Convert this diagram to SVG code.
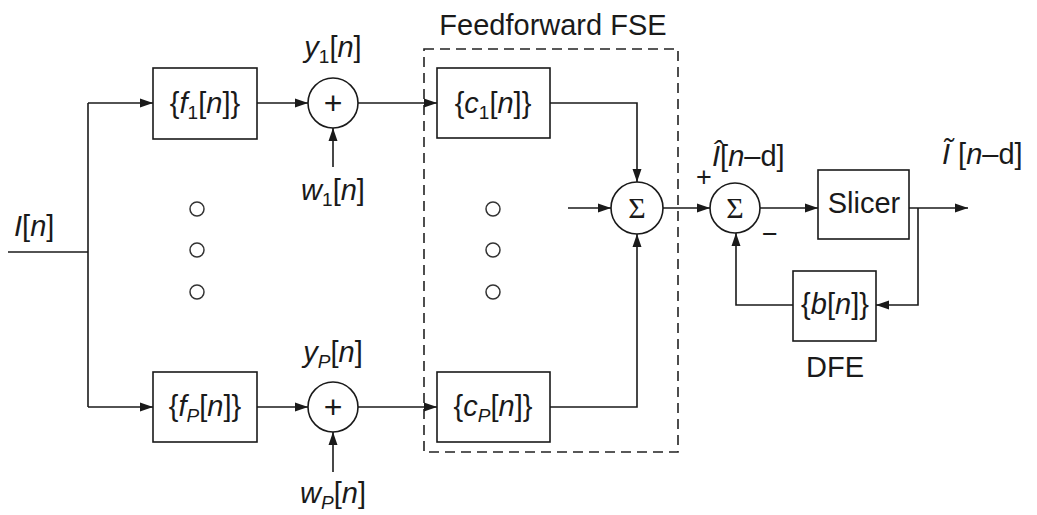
<svg xmlns="http://www.w3.org/2000/svg" width="1037" height="515" viewBox="0 0 1037 515">
<defs>
<marker id="arr" markerUnits="userSpaceOnUse" markerWidth="14" markerHeight="10" refX="13" refY="5" orient="auto">
<path d="M0,0.5 L13,5 L0,9.5 z" fill="#1a1a1a"/>
</marker>
<style>
text{font-family:"Liberation Sans",Arial,sans-serif;font-size:29px;fill:#1a1a1a}
.c{text-anchor:middle}
.i{font-style:italic}
.s{font-size:19px}
.blk{fill:#fff;stroke:#1a1a1a;stroke-width:1.6}
.dot{fill:none;stroke:#333;stroke-width:1.5}
.ln{fill:none;stroke:#1a1a1a;stroke-width:1.6}
.ar{fill:none;stroke:#1a1a1a;stroke-width:1.6;marker-end:url(#arr)}
.sig{font-family:"Liberation Serif",serif;font-size:30px}
.pl{font-size:27px}
.ad{font-size:32px}
</style>
</defs>
<rect width="1037" height="515" fill="#fff"/>

<g id="fse-frame">
<rect x="424" y="49" width="254" height="403" fill="none" stroke="#222" stroke-width="1.6" stroke-dasharray="10,6"/>
<text class="c" x="553" y="35">Feedforward FSE</text>
</g>

<g id="connectors">
<path class="ln" d="M8,252 H88"/>
<path class="ln" d="M88,103 V407"/>
<path class="ar" d="M88,103 H153"/>
<path class="ar" d="M88,407 H153"/>
<path class="ar" d="M257,103 H308"/>
<path class="ar" d="M358,103 H437"/>
<path class="ar" d="M333,167 V128"/>
<path class="ar" d="M257,407 H308"/>
<path class="ar" d="M358,407 H437"/>
<path class="ar" d="M333,472 V432"/>
<path class="ar" d="M550,103 H637 V182"/>
<path class="ar" d="M550,407 H637 V234"/>
<path class="ar" d="M568,208 H611"/>
<path class="ar" d="M663,208 H710"/>
<path class="ar" d="M760,208 H818"/>
<path class="ar" d="M909,208 H968"/>
<path class="ar" d="M918,208 V305 H876"/>
<path class="ar" d="M793,305 H736 V233"/>
</g>

<g id="input-label">
<text x="14" y="236"><tspan class="i">I</tspan>[<tspan class="i">n</tspan>]</text>
</g>

<g id="f1">
<rect class="blk" x="153" y="68" width="104" height="71"/>
<text class="c" x="205" y="113">{<tspan class="i">f</tspan><tspan class="s" dy="6">1</tspan><tspan dy="-6">[</tspan><tspan class="i">n</tspan>]}</text>
</g>
<g id="fP">
<rect class="blk" x="153" y="372" width="104" height="70"/>
<text class="c" x="205" y="416">{<tspan class="i">f</tspan><tspan class="s i" dy="6">P</tspan><tspan dy="-6">[</tspan><tspan class="i">n</tspan>]}</text>
</g>

<g id="add1">
<circle class="blk" cx="333" cy="103" r="25"/>
<text class="c ad" x="333" y="114">+</text>
<text class="c" x="333" y="57"><tspan class="i">y</tspan><tspan class="s" dy="6">1</tspan><tspan dy="-6">[</tspan><tspan class="i">n</tspan>]</text>
<text class="c" x="333" y="200"><tspan class="i">w</tspan><tspan class="s" dy="6">1</tspan><tspan dy="-6">[</tspan><tspan class="i">n</tspan>]</text>
</g>
<g id="addP">
<circle class="blk" cx="333" cy="407" r="25"/>
<text class="c ad" x="333" y="418">+</text>
<text class="c" x="333" y="362"><tspan class="i">y</tspan><tspan class="s i" dy="6">P</tspan><tspan dy="-6">[</tspan><tspan class="i">n</tspan>]</text>
<text class="c" x="333" y="503"><tspan class="i">w</tspan><tspan class="s i" dy="6">P</tspan><tspan dy="-6">[</tspan><tspan class="i">n</tspan>]</text>
</g>

<g id="dots-left">
<circle class="dot" cx="197" cy="209" r="7"/>
<circle class="dot" cx="197" cy="250" r="7"/>
<circle class="dot" cx="197" cy="292" r="7"/>
</g>
<g id="dots-mid">
<circle class="dot" cx="493" cy="209" r="7"/>
<circle class="dot" cx="493" cy="250" r="7"/>
<circle class="dot" cx="493" cy="292" r="7"/>
</g>

<g id="c1">
<rect class="blk" x="437" y="68" width="113" height="70"/>
<text class="c" x="493" y="113">{<tspan class="i">c</tspan><tspan class="s" dy="6">1</tspan><tspan dy="-6">[</tspan><tspan class="i">n</tspan>]}</text>
</g>
<g id="cP">
<rect class="blk" x="437" y="372" width="113" height="70"/>
<text class="c" x="493" y="416">{<tspan class="i">c</tspan><tspan class="s i" dy="6">P</tspan><tspan dy="-6">[</tspan><tspan class="i">n</tspan>]}</text>
</g>

<g id="sum1">
<circle class="blk" cx="637" cy="208" r="26"/>
<text class="c sig" x="637" y="218">Σ</text>
</g>

<g id="sum2">
<circle class="blk" cx="735" cy="208" r="25"/>
<text class="c sig" x="735" y="218">Σ</text>
<text class="c pl" x="704" y="186">+</text>
<text class="c pl" x="770" y="243">−</text>
<text x="712" y="166"><tspan class="i">Î</tspan>[<tspan class="i">n</tspan>–d]</text>
</g>

<g id="slicer">
<rect class="blk" x="818" y="170" width="91" height="69"/>
<text class="c" x="864" y="213">Slicer</text>
<text x="942" y="164"><tspan class="i">Ĩ</tspan> [<tspan class="i">n</tspan>–d]</text>
</g>

<g id="dfe">
<rect class="blk" x="793" y="271" width="83" height="70"/>
<text class="c" x="835" y="314">{<tspan class="i">b</tspan>[<tspan class="i">n</tspan>]}</text>
<text class="c" x="835" y="377">DFE</text>
</g>
</svg>
